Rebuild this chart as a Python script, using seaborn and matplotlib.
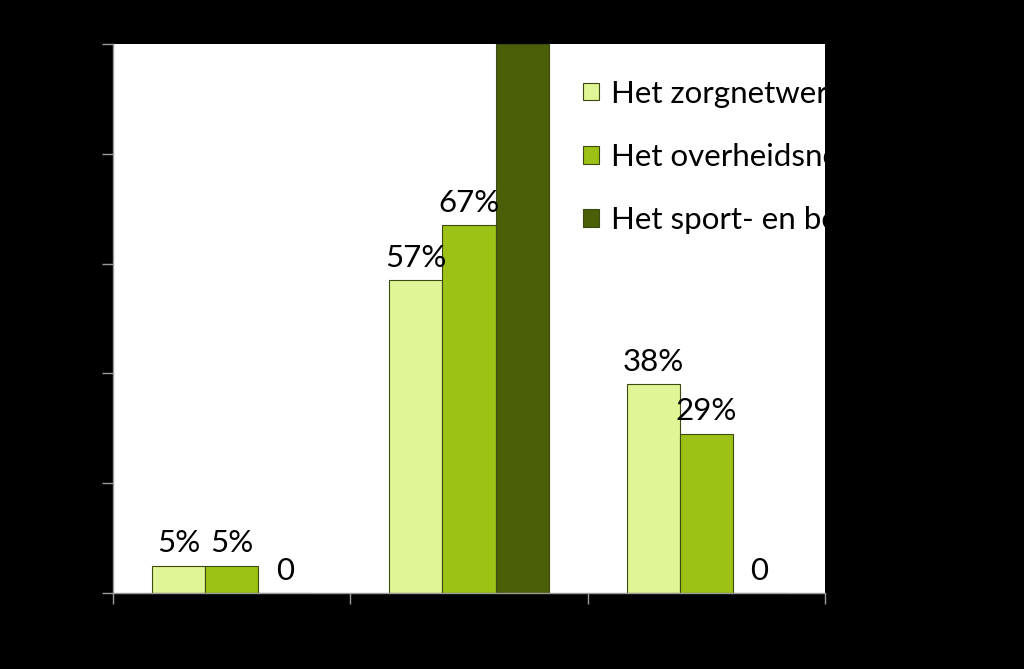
import matplotlib
matplotlib.use("Agg")
import matplotlib.pyplot as plt
import seaborn as sns
import pandas as pd

categories = ["Categorie 1", "Categorie 2", "Categorie 3"]
series_names = ["Het zorgnetwerk", "Het overheidsnetwerk", "Het sport- en beweegnetwerk"]
zorg = [0.05, 0.57, 0.38]
overheid = [0.05, 0.67, 0.29]
sport = [0.0, 1.00, 0.0]
y_ticks = [0, 0.2, 0.4, 0.6, 0.8, 1.0]

colors = ["#E0F595", "#9BC214", "#4B5E08"]

rows = []
for name, vals in zip(series_names, [zorg, overheid, sport]):
    for c, v in zip(categories, vals):
        rows.append({"cat": c, "serie": name, "val": v})
df = pd.DataFrame(rows)

sns.set_style("white")
plt.rcParams["font.family"] = ["Lato", "DejaVu Sans"]

fig = plt.figure(figsize=(10.24, 6.69), dpi=100, facecolor="black")
ax = fig.add_axes([113/1024, 1-593/669, 712/1024, 549/669])
ax.set_facecolor("white")

sns.barplot(data=df, x="cat", y="val", hue="serie", palette=colors,
            width=0.671, edgecolor="#3d4a10", linewidth=0.8, ax=ax,
            errorbar=None, legend=True, saturation=1)

ax.set_ylim(0, 1.0)
ax.set_xlim(-0.5, 2.5)
ax.set_yticks(y_ticks)
ax.set_yticklabels([""] * len(y_ticks))
ax.set_xticks([-0.5, 0.5, 1.5, 2.5])
ax.set_xticklabels([""] * 4)
ax.set_xlabel("")
ax.set_ylabel("")
ax.tick_params(axis="both", direction="out", length=8, color="#9a9a9a", width=1,
               left=True, bottom=True)
for s in ["top", "right"]:
    ax.spines[s].set_visible(False)
for s in ["left", "bottom"]:
    ax.spines[s].set_color("#9a9a9a")
    ax.spines[s].set_linewidth(1)

for cont in ax.containers:
    vals = [b.get_height() for b in cont]
    labs = [("0" if v == 0 else f"{v*100:.0f}%") for v in vals]
    texts = ax.bar_label(cont, labels=labs, padding=6, fontsize=22.5, color="black")
    for t in texts:
        t.set_clip_on(True)

leg = ax.legend(loc="upper left", bbox_to_anchor=(0.66, 0.935), frameon=False,
                fontsize=22.5, handlelength=0.5, handleheight=0.5,
                handletextpad=0.4, labelspacing=1.13, borderpad=0, borderaxespad=0)
for t in leg.get_texts():
    t.set_color("black")
    t.set_clip_on(True)
    t.set_clip_box(ax.bbox)
for h in leg.legend_handles:
    h.set_edgecolor("#3d4a10")

fig.savefig("out.png", dpi=100, facecolor="black")
